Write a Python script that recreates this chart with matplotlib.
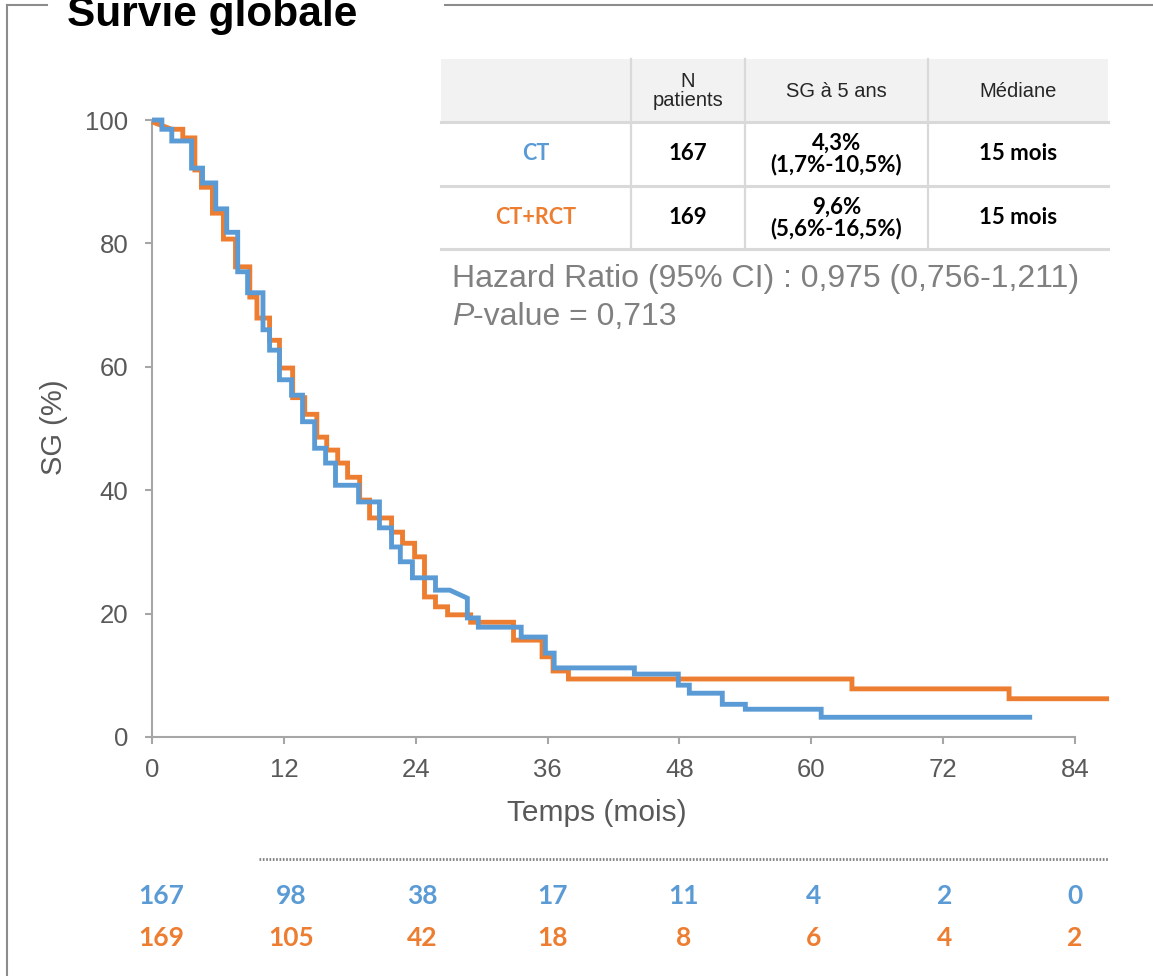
import matplotlib
matplotlib.use("Agg")
import matplotlib.pyplot as plt
import matplotlib.transforms as mtransforms
from matplotlib.patches import Rectangle
from matplotlib.lines import Line2D

# ---------------- data ----------------
ct_time = [0, 0.9, 1.8, 3.6, 4.6, 5.8, 6.8, 7.8, 8.7, 10.1,
           10.7, 11.6, 12.7, 13.7, 14.8, 15.8, 16.7, 18.8, 20.7, 21.8,
           22.6, 23.7, 25.8, 27.1, 28.7, 28.7, 29.7, 33.6, 35.8, 36.6,
           43.9, 47.9, 48.9, 51.9, 54.0, 60.9, 80.1]
ct_surv = [100, 98.5, 96.6, 92.2, 89.8, 85.6, 81.8, 75.4, 72.0, 66.0,
           62.7, 57.9, 55.4, 51.1, 46.8, 44.4, 40.8, 38.1, 33.9, 30.8,
           28.4, 25.8, 23.8, 23.8, 22.5, 19.3, 17.8, 16.2, 13.6, 11.2,
           10.2, 8.4, 7.1, 5.3, 4.5, 3.2, 3.2]
ct_sloped = [24]          # segment drawn as straight line instead of a step

rct_time = [0, 1.8, 2.8, 3.9, 4.5, 5.5, 6.5, 7.6, 8.9, 9.55,
            10.7, 11.6, 12.8, 13.9, 15.0, 15.9, 16.9, 17.8, 18.9, 19.8,
            21.8, 22.8, 23.9, 24.8, 25.8, 26.9, 29.0, 32.9, 35.5, 36.5,
            37.9, 63.7, 78.0, 87.1]
rct_surv = [99.7, 98.5, 97.1, 91.9, 89.1, 84.9, 80.7, 76.2, 71.3, 67.9,
            64.3, 59.8, 55.0, 52.3, 48.6, 46.5, 44.4, 42.1, 38.4, 35.5,
            33.2, 31.4, 29.2, 22.7, 21.1, 19.8, 18.6, 15.7, 13.0, 10.7,
            9.4, 7.8, 6.2, 6.2]
rct_sloped = [1]

risk_times = [0, 12, 24, 36, 48, 60, 72, 84]
ct_risk = [167, 98, 38, 17, 11, 4, 2, 0]
rct_risk = [169, 105, 42, 18, 8, 6, 4, 2]

x_ticks = [0, 12, 24, 36, 48, 60, 72, 84]
y_ticks = [0, 20, 40, 60, 80, 100]

table_header = ["", "N\npatients", "SG à 5 ans", "Médiane"]
table_groups = ["CT", "CT+RCT"]
table_n = ["167", "169"]
table_sg5 = ["4,3%\n(1,7%-10,5%)", "9,6%\n(5,6%-16,5%)"]
table_median = ["15 mois", "15 mois"]

hr_text = "Hazard Ratio (95% CI) : 0,975 (0,756-1,211)"
p_text = "-value = 0,713"

BLUE = "#5B9BD5"
ORANGE = "#ED7D31"
GREY = "#595959"

# ---------------- figure ----------------
W, H = 1153, 976
fig = plt.figure(figsize=(W / 100, H / 100), dpi=100)


def fx(px):
    return px / W


def fy(py):
    return 1 - py / H


ax = fig.add_axes([fx(152), fy(737), (1075 - 152) / W, (737 - 120) / H])


def km_path(t, s, sloped):
    xs, ys = [t[0]], [s[0]]
    for i in range(1, len(t)):
        if i not in sloped:
            xs.append(t[i])
            ys.append(ys[-1])
        xs.append(t[i])
        ys.append(s[i])
    return xs, ys


x, y = km_path(rct_time, rct_surv, rct_sloped)
ax.plot(x, y, color=ORANGE, lw=3.5, clip_on=False, solid_joinstyle="miter",
        solid_capstyle="butt", zorder=3)
x, y = km_path(ct_time, ct_surv, ct_sloped)
ax.plot(x, y, color=BLUE, lw=3.5, clip_on=False, solid_joinstyle="miter",
        solid_capstyle="butt", zorder=4)

ax.set_xlim(0, 84)
ax.set_ylim(0, 100)
ax.set_xticks(x_ticks)
ax.set_yticks(y_ticks)
for sp in ["top", "right"]:
    ax.spines[sp].set_visible(False)
for sp in ["left", "bottom"]:
    ax.spines[sp].set_color("#A6A6A6")
    ax.spines[sp].set_linewidth(1.5)
ax.tick_params(axis="both", direction="out", length=5, width=1.5,
               color="#A6A6A6", labelsize=18.5, labelcolor=GREY)
ax.tick_params(axis="x", pad=10)
ax.tick_params(axis="y", pad=12)
for lab in ax.get_xticklabels() + ax.get_yticklabels():
    lab.set_fontfamily("Liberation Sans")

fig.text(fx(597), fy(813), "Temps (mois)", ha="center", va="center",
         fontsize=21.5, color=GREY, family="Liberation Sans")
fig.text(fx(54), fy(427), "SG (%)", ha="center", va="center", rotation=90,
         fontsize=21, color=GREY, family="Liberation Sans")

# HR / p-value
fig.text(fx(452), fy(287), hr_text, ha="left", va="baseline", fontsize=23,
         color="#808080", family="Liberation Sans")
pt = fig.text(fx(452), fy(325), "P", ha="left", va="baseline", fontsize=23,
              color="#808080", family="Liberation Sans", style="italic")
ax.annotate(p_text, xy=(1, 0), xycoords=pt, ha="left", va="bottom",
            fontsize=23, color="#808080", family="Liberation Sans",
            annotation_clip=False)

# ---------------- table ----------------
col_edges = [441, 631, 745, 928, 1108]
row_edges = [59, 122, 186, 249]
fig.patches.append(Rectangle((fx(col_edges[0]), fy(row_edges[1])),
                             (col_edges[-1] - col_edges[0]) / W,
                             (row_edges[1] - row_edges[0]) / H,
                             transform=fig.transFigure, facecolor="#F2F2F2",
                             edgecolor="none", zorder=0))
for yy in row_edges[1:]:
    fig.add_artist(Line2D([fx(col_edges[0]), fx(col_edges[-1])], [fy(yy), fy(yy)],
                          color="#D9D9D9", lw=2.2, transform=fig.transFigure))
for xx in col_edges[1:-1]:
    fig.add_artist(Line2D([fx(xx), fx(xx)], [fy(row_edges[0]), fy(row_edges[-1])],
                          color="#D9D9D9", lw=1.6, transform=fig.transFigure))

col_cent = [(col_edges[i] + col_edges[i + 1]) / 2 for i in range(4)]
hdr_y = 91
for j, h in enumerate(table_header):
    if h:
        fig.text(fx(col_cent[j]), fy(hdr_y), h, ha="center", va="center",
                 fontsize=14.5, color="#262626", family="Liberation Sans",
                 linespacing=1.05)
row_y = [154, 218]
for i in range(2):
    col = BLUE if i == 0 else ORANGE
    fig.text(fx(col_cent[0]), fy(row_y[i]), table_groups[i], ha="center",
             va="center", fontsize=15.5, color=col, family="Lato", weight="bold")
    for j, val in enumerate([table_n[i], table_sg5[i], table_median[i]]):
        fig.text(fx(col_cent[j + 1]), fy(row_y[i]), val, ha="center",
                 va="center", fontsize=16, color="black", family="Lato",
                 weight="bold", linespacing=0.98)

# ---------------- numbers at risk ----------------
fig.add_artist(Line2D([fx(259), fx(1109)], [fy(859), fy(859)], color="#7F7F7F",
                      lw=2, linestyle=(0, (0.6, 0.6)), transform=fig.transFigure))
tr = mtransforms.blended_transform_factory(ax.transData, fig.transFigure)
for t, a, b in zip(risk_times, ct_risk, rct_risk):
    xpos = t * (1 - 0.8 / 84) + 0.8
    fig.text(xpos, fy(896), str(a), transform=tr, ha="center", va="center",
             fontsize=19, color=BLUE, family="Lato", weight="bold")
    fig.text(xpos, fy(938), str(b), transform=tr, ha="center", va="center",
             fontsize=19, color=ORANGE, family="Lato", weight="bold")

# ---------------- frame and title ----------------
FR = "#8C8C8C"
fig.add_artist(Line2D([fx(7), fx(7)], [fy(5), 0], color=FR, lw=1.5,
                      transform=fig.transFigure))
fig.add_artist(Line2D([fx(7), fx(47)], [fy(5), fy(5)], color=FR, lw=1.5,
                      transform=fig.transFigure))
fig.add_artist(Line2D([fx(445), 1], [fy(5), fy(5)], color=FR, lw=1.5,
                      transform=fig.transFigure))
fig.text(fx(67), fy(26), "Survie globale", ha="left", va="baseline",
         fontsize=30.5, weight="bold", color="black", family="Liberation Sans")

fig.savefig("out.png", dpi=100)
